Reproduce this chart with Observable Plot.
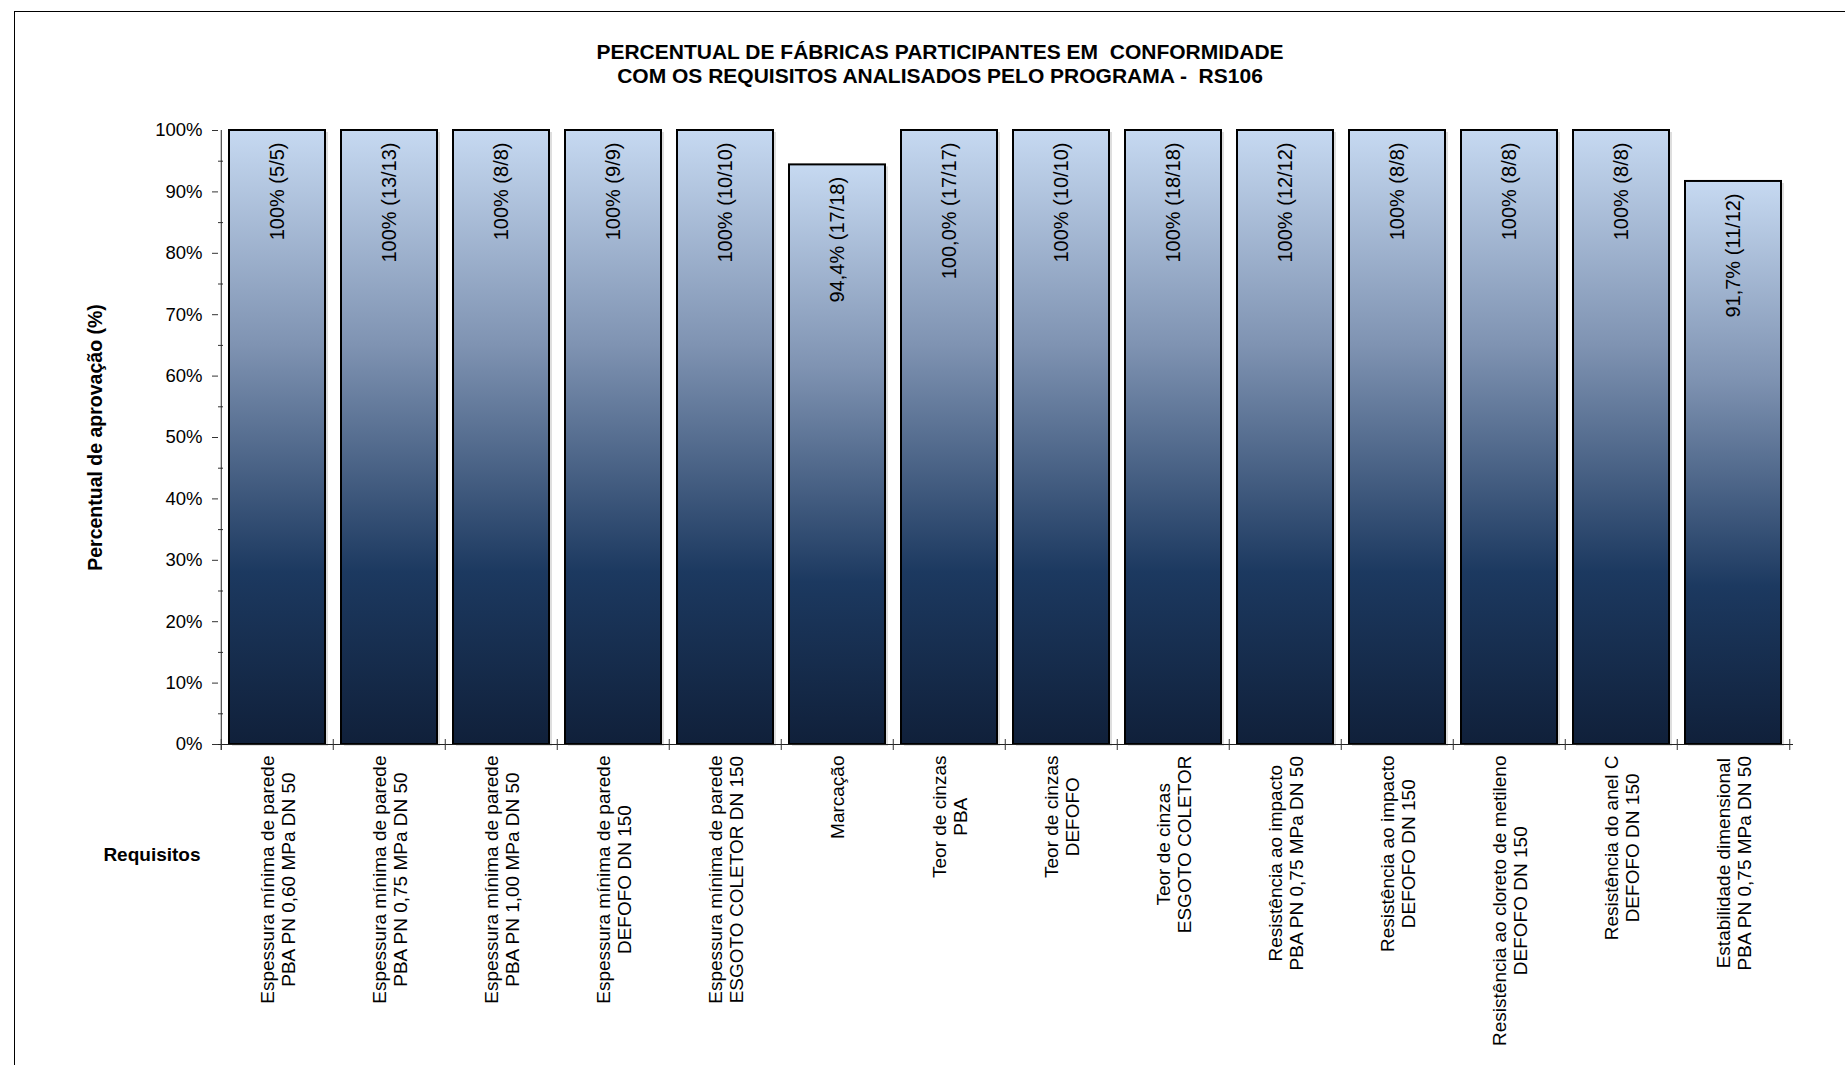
<!DOCTYPE html>
<html>
<head>
<meta charset="utf-8">
<script src="https://cdn.jsdelivr.net/npm/d3@7"></script>
<script src="https://cdn.jsdelivr.net/npm/@observablehq/plot@0.6"></script>
<style>
  html, body { margin: 0; padding: 0; background: #fff; overflow: hidden; }
  #wrap { position: relative; width: 1845px; height: 1065px; font-family: "Liberation Sans", Arial, sans-serif; }
  #border { position: absolute; left: 14px; top: 11px; width: 1900px; height: 1100px; border-left: 1px solid #000; border-top: 1px solid #000; pointer-events: none; }
  #title { position: relative; height: 100px; box-sizing: border-box; padding-top: 40px; }
  #title div { position: relative; left: 940px; transform: translateX(-50%); width: max-content; white-space: pre; font-weight: bold; font-size: 21px; line-height: 24px; color: #000; }
  #chart svg { display: block; }
</style>
</head>
<body>
<div id="wrap">
  <div id="border"></div>
  <div id="title">
    <div>PERCENTUAL DE FÁBRICAS PARTICIPANTES EM  CONFORMIDADE</div>
    <div>COM OS REQUISITOS ANALISADOS PELO PROGRAMA -  RS106</div>
  </div>
  <div id="chart"></div>
</div>
<script>
// ---- data ----
const categories = [
  "Espessura mínima de parede\nPBA PN 0,60 MPa DN 50",
  "Espessura mínima de parede\nPBA PN 0,75 MPa DN 50",
  "Espessura mínima de parede\nPBA PN 1,00 MPa DN 50",
  "Espessura mínima de parede\nDEFOFO DN 150",
  "Espessura mínima de parede\nESGOTO COLETOR DN 150",
  "Marcação",
  "Teor de cinzas\nPBA",
  "Teor de cinzas\nDEFOFO",
  "Teor de cinzas\nESGOTO COLETOR",
  "Resistência ao impacto\nPBA PN 0,75 MPa DN 50",
  "Resistência ao impacto\nDEFOFO DN 150",
  "Resistência ao cloreto de metileno\nDEFOFO DN 150",
  "Resistência do anel C\nDEFOFO DN 150",
  "Estabilidade dimensional\nPBA PN 0,75 MPa DN 50"
];
const values = [100, 100, 100, 100, 100, 94.4, 100, 100, 100, 100, 100, 100, 100, 91.7];
const valueLabels = [
  "100% (5/5)", "100% (13/13)", "100% (8/8)", "100% (9/9)", "100% (10/10)",
  "94,4% (17/18)", "100,0% (17/17)", "100% (10/10)", "100% (18/18)", "100% (12/12)",
  "100% (8/8)", "100% (8/8)", "100% (8/8)", "91,7% (11/12)"
];
const yTicks = [0, 10, 20, 30, 40, 50, 60, 70, 80, 90, 100];
const yMinorTicks = [5, 15, 25, 35, 45, 55, 65, 75, 85, 95];
const yTitle = "Percentual de aprovação (%)";
const xTitle = "Requisitos";

// ---- layout ----
const width = 1845, height = 965;
const marginLeft = 218, marginRight = 52, marginTop = 30, marginBottom = 321;
const W = width - marginLeft - marginRight;
const H = height - marginTop - marginBottom;
const n = categories.length;
const step = W / n;
const fontFamily = '"Liberation Sans", Arial, sans-serif';

const data = categories.map((c, i) => ({cat: c, value: values[i], label: valueLabels[i]}));

const ctx = document.createElement("canvas").getContext("2d");
ctx.font = `19px ${fontFamily}`;
const blockLen = (c) => d3.max(c.split("\n"), (s) => ctx.measureText(s).width);

const defs = () => {
  const d = d3.create("svg:defs");
  const g = d.append("linearGradient").attr("id", "barGrad")
    .attr("x1", 0).attr("y1", 0).attr("x2", 0).attr("y2", 1);
  g.append("stop").attr("offset", "0%").attr("stop-color", "#c6d9f1");
  g.append("stop").attr("offset", "35%").attr("stop-color", "#7f93b2");
  g.append("stop").attr("offset", "72%").attr("stop-color", "#1c3960");
  g.append("stop").attr("offset", "100%").attr("stop-color", "#10203a");
  return d.node();
};

const catLabelMarks = categories.map((c) =>
  Plot.text([c], {
    x: (d) => d, frameAnchor: "bottom", text: (d) => d,
    rotate: -90, textAnchor: "middle", lineAnchor: "middle",
    lineHeight: 1.137, fontSize: 19, fill: "#000",
    dy: 11 + blockLen(c) / 2
  })
);

const chart = Plot.plot({
  width, height, marginLeft, marginRight, marginTop, marginBottom,
  style: {fontFamily, fontSize: "18px", color: "#000", background: "transparent", overflow: "visible"},
  x: {domain: categories, paddingInner: 0.14, paddingOuter: 0.07, axis: null},
  y: {domain: [0, 100], axis: null},
  marks: [
    defs,
    // shadow
    Plot.barY(data, {x: "cat", y: "value", fill: "#000", fillOpacity: 0.13, dx: 3, dy: 2}),
    // bars
    Plot.barY(data, {x: "cat", y: "value", fill: "url(#barGrad)", stroke: "#000", strokeWidth: 2}),
    // bar value labels
    Plot.text(data, {x: "cat", y: "value", text: "label", rotate: -90, textAnchor: "end",
      lineAnchor: "middle", dy: 12, fontSize: 20, fill: "#000"}),
    // minor y ticks (inside)
    Plot.ruleY(yMinorTicks, {y: (d) => d, stroke: "#333", insetRight: W - 5}),
    // major y ticks + labels
    Plot.axisY({ticks: yTicks, tickSize: 6, tickPadding: 10, tickFormat: (d) => d + "%",
      label: null, fontSize: 18.5, stroke: "#333"}),
    // x axis line
    Plot.ruleY([0], {stroke: "#222"}),
    // y axis line
    Plot.ruleX([categories[0]], {x: (d) => d, dx: -step / 2, insetBottom: -6, stroke: "#222"}),
    // category boundary ticks
    Plot.ruleX(categories, {x: (d) => d, dx: -step / 2, insetTop: H - 5, insetBottom: -6, stroke: "#333"}),
    Plot.ruleX([categories[n - 1]], {x: (d) => d, dx: step / 2, insetTop: H - 5, insetBottom: -6, stroke: "#333"}),
    // category labels
    ...catLabelMarks,
    // axis titles
    Plot.text([yTitle], {frameAnchor: "left", text: (d) => d, rotate: -90, dx: -123,
      textAnchor: "middle", lineAnchor: "middle", fontSize: 19.5, fontWeight: "bold", fill: "#000"}),
    Plot.text([xTitle], {frameAnchor: "bottom-left", text: (d) => d, textAnchor: "end",
      lineAnchor: "middle", dx: -18, dy: 110, fontSize: 19, fontWeight: "bold", fill: "#000"})
  ]
});
document.getElementById("chart").appendChild(chart);
</script>
</body>
</html>
